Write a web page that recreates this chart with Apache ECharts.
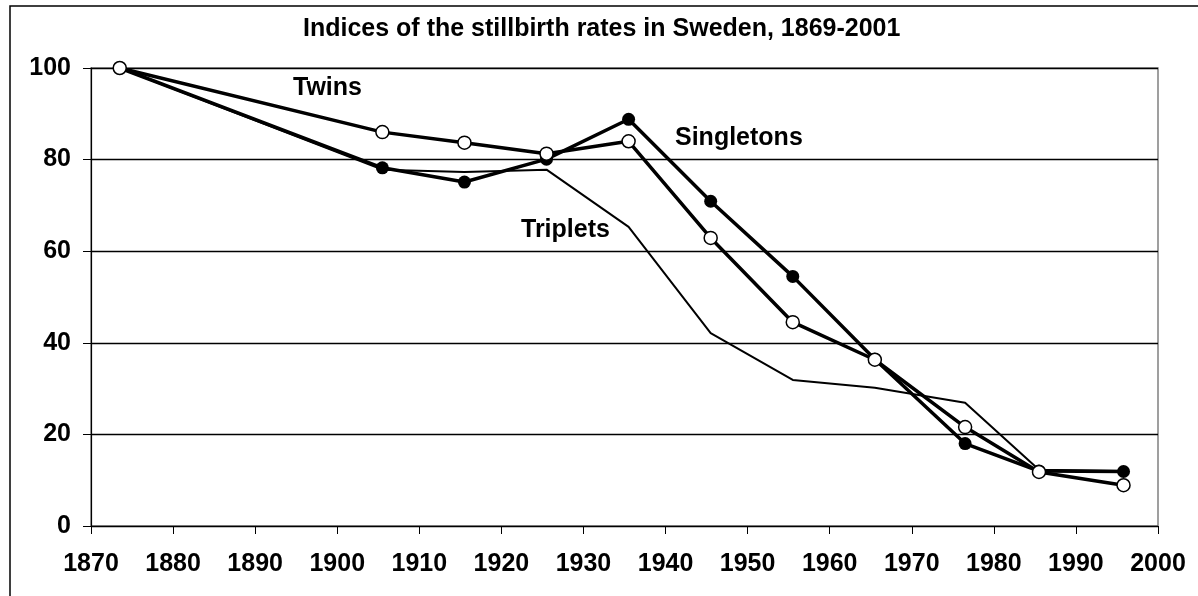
<!DOCTYPE html>
<html lang="en">
<head>
    <meta charset="UTF-8">
    <title>Stillbirth rates in Sweden</title>
    <script src="https://cdn.jsdelivr.net/npm/echarts@6/dist/echarts.min.js"></script>
</head>
<body style="margin:0;background:#fff">
<div class="main" style="width:1198px;height:596px"></div>
</body>
<script>
    // period midpoints (years) and index values
    let years = [1873.5, 1905.5, 1915.5, 1925.5, 1935.5, 1945.5, 1955.5, 1965.5, 1976.5, 1985.5, 1995.8];
    let singletons = [100, 78.2, 75.1, 80.1, 88.8, 70.9, 54.5, 36.4, 18.0, 12.0, 11.9];
    let twins = [100, 86.0, 83.7, 81.3, 84.0, 62.9, 44.5, 36.3, 21.6, 11.8, 8.9];
    let triplets = [100, 77.8, 77.3, 77.8, 65.3, 42.1, 31.9, 30.2, 26.9, 12.3, 12.0];
    let yTicks = [0, 20, 40, 60, 80, 100];

    let font = "'Liberation Sans', Arial, sans-serif";
    let pairs = vals => years.map((y, i) => [y, vals[i]]);

    let myChart = echarts.init(document.querySelector('.main'));
    let option = {
        animation: false,
        backgroundColor: '#fff',
        title: {
            text: 'Indices of the stillbirth rates in Sweden, 1869-2001',
            left: 298,
            top: 12,
            textStyle: {fontFamily: font, fontSize: 25, fontWeight: 'bold', color: '#000'}
        },
        grid: {
            left: 91, right: 40, top: 68, bottom: 70,
            show: true, borderColor: '#808080', borderWidth: 1.5
        },
        xAxis: {
            type: 'value',
            min: 1870, max: 2000, interval: 10,
            axisLine: {lineStyle: {color: '#000', width: 1.2}},
            axisTick: {show: true, length: 8, lineStyle: {color: '#000'}},
            axisLabel: {margin: 26, color: '#000', fontFamily: font, fontSize: 25, fontWeight: 'bold',
                formatter: v => String(v)},
            splitLine: {show: false}
        },
        yAxis: {
            type: 'value',
            min: yTicks[0], max: yTicks[yTicks.length - 1], interval: 20,
            axisLine: {show: true, lineStyle: {color: '#000', width: 1.2}},
            axisTick: {show: true, length: 8, lineStyle: {color: '#000'}},
            axisLabel: {margin: 20, color: '#000', fontFamily: font, fontSize: 25, fontWeight: 'bold'},
            splitLine: {lineStyle: {color: '#000', width: 1.4}}
        },
        graphic: [
            {type: 'rect', z: -10, shape: {x: 10, y: 6, width: 1400, height: 800},
                style: {fill: 'none', stroke: '#000', lineWidth: 1.5}},
            {type: 'text', left: 293, top: 76,
                style: {text: 'Twins', font: 'bold 25px ' + font, fill: '#000'}},
            {type: 'text', left: 675, top: 126,
                style: {text: 'Singletons', font: 'bold 25px ' + font, fill: '#000'}},
            {type: 'text', left: 521, top: 218,
                style: {text: 'Triplets', font: 'bold 25px ' + font, fill: '#000'}}
        ],
        series: [
            {
                name: 'Triplets', type: 'line', data: pairs(triplets),
                showSymbol: false, symbol: 'none',
                lineStyle: {color: '#000', width: 2}
            },
            {
                name: 'Singletons', type: 'line', data: pairs(singletons),
                symbol: 'circle', symbolSize: 13,
                lineStyle: {color: '#000', width: 3.5},
                itemStyle: {color: '#000'}
            },
            {
                name: 'Twins', type: 'line', data: pairs(twins),
                symbol: 'circle', symbolSize: 13,
                lineStyle: {color: '#000', width: 3.5},
                itemStyle: {color: '#fff', borderColor: '#000', borderWidth: 1.5}
            }
        ]
    };
    myChart.setOption(option);
</script>
</html>
